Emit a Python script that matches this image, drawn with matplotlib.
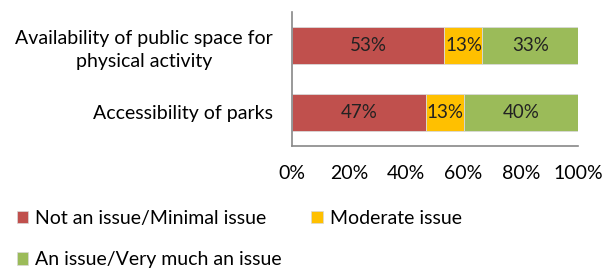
import numpy as np
import matplotlib.pyplot as plt
from matplotlib.patches import Patch

plt.rcParams['font.family'] = ['Lato', 'DejaVu Sans']

categories = ['Availability of public space for\nphysical activity',
              'Accessibility of parks']
series_names = ['Not an issue/Minimal issue', 'Moderate issue',
                'An issue/Very much an issue']
not_issue = [53.3, 46.7]
moderate = [13.3, 13.3]
issue = [33.4, 40.0]
colors = ['#C0504D', '#FFC000', '#9BBB59']

fig = plt.figure(figsize=(6.02, 2.68), dpi=100)
ax = fig.add_axes([292 / 602, 1 - 146 / 268, 286 / 602, 134 / 268])

y = np.arange(len(categories))
left = np.zeros(len(categories))
for vals, col in zip([not_issue, moderate, issue], colors):
    bars = ax.barh(y, vals, left=left, height=0.55, color=col,
                   edgecolor='#d9d9d9', linewidth=0.6)
    for b, v in zip(bars, vals):
        ax.text(b.get_x() + b.get_width() / 2, b.get_y() + b.get_height() / 2,
                f'{v:.0f}%', ha='center', va='center', fontsize=13.5,
                color='#222222')
    left += np.array(vals)

ax.set_xlim(0, 100)
ax.set_ylim(1.5, -0.5)
ax.set_yticks(y)
ax.set_yticklabels(categories, fontsize=14, multialignment='center',
                   linespacing=1.45)
ax.set_xticks(np.arange(0, 101, 20))
ax.set_xticklabels([f'{t}%' for t in range(0, 101, 20)], fontsize=14)
ax.tick_params(length=0)
ax.tick_params(axis='x', pad=14)
ax.tick_params(axis='y', pad=14)
for s in ['top', 'right']:
    ax.spines[s].set_visible(False)
for s in ['left', 'bottom']:
    ax.spines[s].set_color('#888888')
    ax.spines[s].set_linewidth(1.2)

# legend is filled column by column, so order entries to read row by row
order = [0, 2, 1]
handles = [Patch(facecolor=colors[i], edgecolor='#d9d9d9', linewidth=0.5)
           for i in order]
labels = [series_names[i] for i in order]
fig.legend(handles, labels, loc='upper left', bbox_to_anchor=(0.015, 0.245),
           ncol=2, frameon=False, fontsize=14, handlelength=0.6,
           handleheight=0.6, handletextpad=0.35, columnspacing=1.5,
           labelspacing=1.25, borderaxespad=0)

fig.savefig('out.png', dpi=100)
